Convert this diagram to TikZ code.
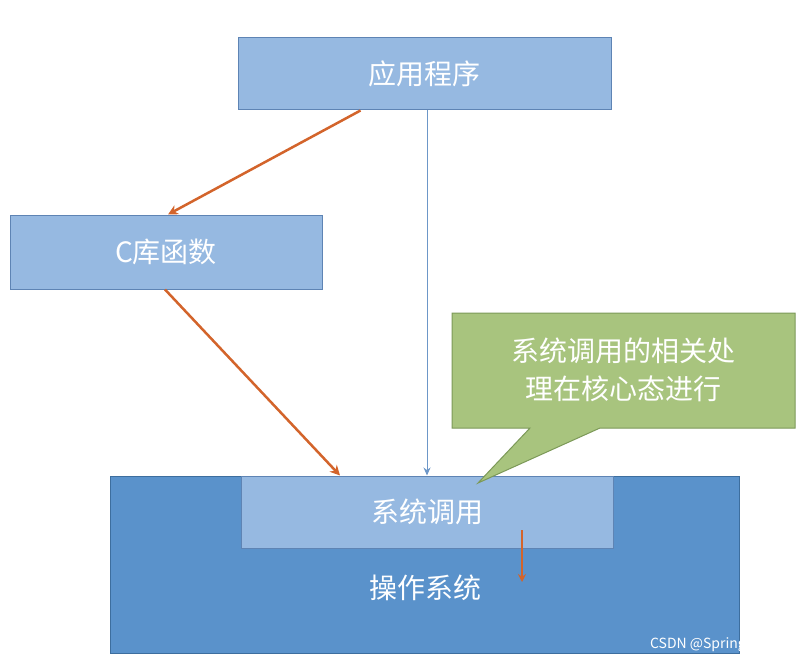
\documentclass[tikz,border=0pt]{standalone}
\usepackage{fontspec}
\setmainfont{Noto Sans CJK SC}
\usetikzlibrary{arrows.meta}
\definecolor{lb}{HTML}{96B9E1}
\definecolor{lbd}{HTML}{5E84B4}
\definecolor{db}{HTML}{5A92CB}
\definecolor{dbd}{HTML}{3D6E9E}
\definecolor{gr}{HTML}{A8C47E}
\definecolor{grd}{HTML}{7C9958}
\definecolor{org}{HTML}{D3642B}
\definecolor{thin}{HTML}{6D97C8}
\tikzset{
 box/.style={draw=lbd,fill=lb,line width=1pt,inner sep=0pt,text=white,font=\fontsize{28}{32}\selectfont},
 oarr/.style={draw=org,line width=2.5pt,-{Stealth[length=10pt,width=10pt]}},
}
\begin{document}
\begin{tikzpicture}[x=1pt,y=-1pt]
\useasboundingbox[fill=white] (0,0) rectangle (810,666);
\node[box,minimum width=373pt,minimum height=72pt] (app) at (424.5,74) {应用程序};
\node[box,minimum width=312pt,minimum height=74pt] (clib) at (166,252) {C库函数};
\node[draw=dbd,fill=db,line width=1pt,minimum width=629pt,minimum height=177pt,inner sep=0pt] (os) at (424.5,564.5) {};
\node[box,minimum width=372pt,minimum height=72pt] (sc) at (427,512) {系统调用};
\node[text=white,font=\fontsize{28}{32}\selectfont] (ost) at (425,588) {操作系统};
\coordinate (tip) at (478,483);
\draw[draw=grd,fill=gr,line width=1pt] (452,313) -- (795,313) -- (795,428) -- (600,428) -- (tip) -- (530,428) -- (452,428) -- cycle;
\node[text=white,font=\fontsize{28}{38}\selectfont,align=center] (call) at (623,370) {系统调用的相关处\\理在核心态进行};
\draw[oarr] ([xshift=-64pt]app.south) -- ([xshift=2pt]clib.north);
\draw[oarr] ([xshift=-1pt]clib.south) -- ([xshift=-87pt]sc.north);
\draw[draw=thin,line width=1pt,-{Stealth[length=8pt,width=7pt]}] ([xshift=2.5pt]app.south) -- (sc.north);
\coordinate (a1) at (522,530);
\coordinate (a2) at (522,582);
\draw[draw=org,line width=2.5pt,-{Stealth[length=8pt,width=8pt]}] (a1) -- (a2);
\node[text=white,font=\fontsize{14}{16}\selectfont,anchor=east] (wm) at (797,645) {CSDN @Spring-\_-Bear};
\end{tikzpicture}
\end{document}
